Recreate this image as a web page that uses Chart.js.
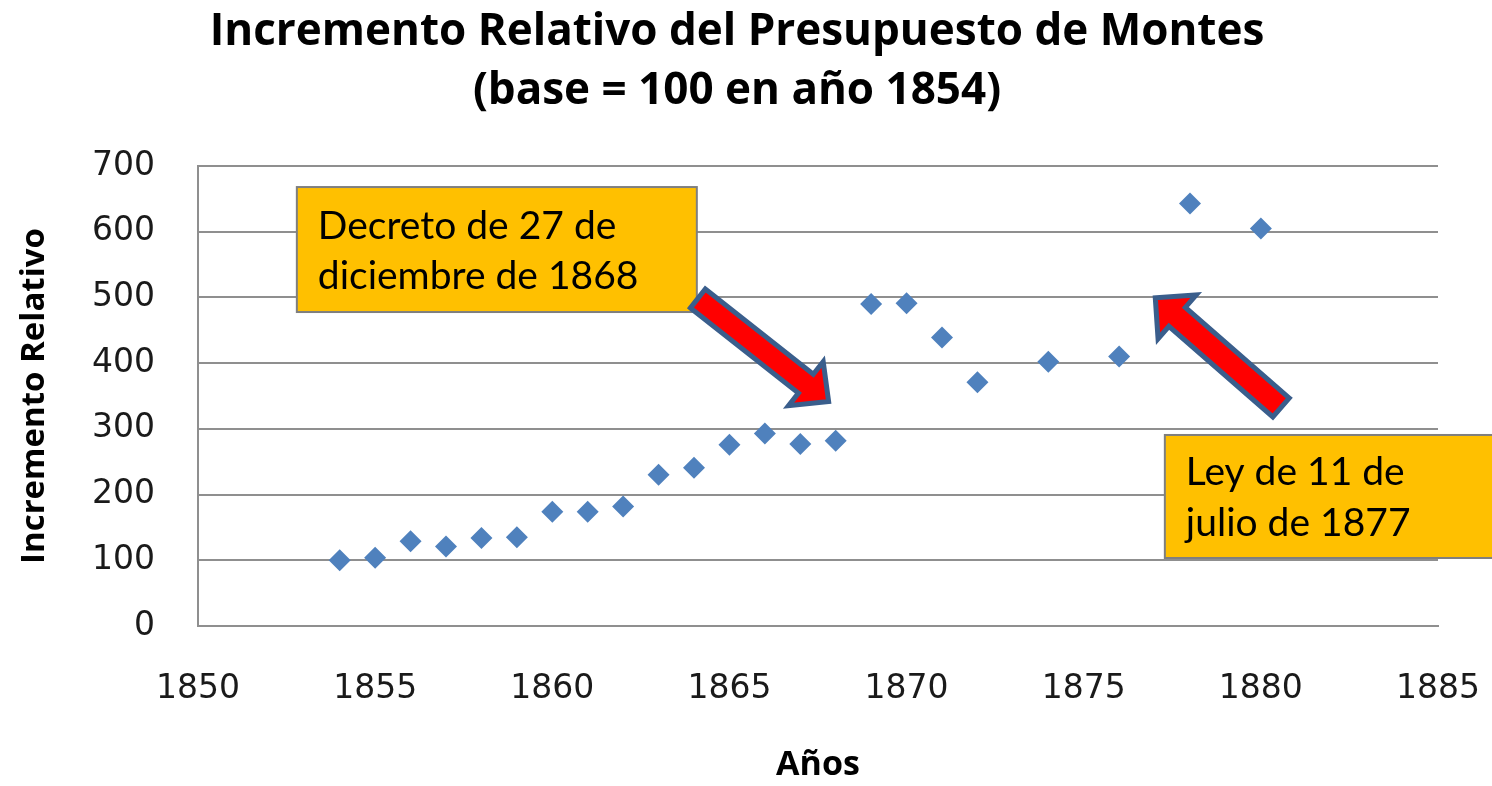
<!DOCTYPE html>
<html>
<head>
<meta charset="utf-8">
<script src="https://cdn.jsdelivr.net/npm/chart.js@4.4.1/dist/chart.umd.min.js"></script>
<style>
html,body{margin:0;padding:0;background:#ffffff;}
#wrap{width:1492px;height:786px;position:relative;}
</style>
</head>
<body>
<div id="wrap"><canvas id="c" width="1492" height="786"></canvas></div>
<script>
// ---- data ----
const years  = [1854,1855,1856,1857,1858,1859,1860,1861,1862,1863,1864,1865,1866,1867,1868,1869,1870,1871,1872,1874,1876,1878,1880];
const values = [100, 104, 129, 121, 134, 135, 174, 174, 182, 230, 241, 276, 293, 277, 282, 490, 491, 439, 371, 402, 410, 643, 605];
const xTickMin = 1850, xTickMax = 1885, xTickStep = 5;
const yTickMin = 0, yTickMax = 700, yTickStep = 100;
const titleLines = ['Incremento Relativo del Presupuesto de Montes', '(base = 100 en año 1854)'];
const xTitle = 'Años';
const yTitle = 'Incremento Relativo';
const note1Lines = ['Decreto de 27 de', 'diciembre de 1868'];
const note2Lines = ['Ley de 11 de', 'julio de 1877'];

// ---- annotation layout (in axis units) ----
const noteBoxes = [
  {x0: 1852.79, x1: 1864.08, y0: 668.0, y1: 477.8, lines: note1Lines, dx: 21, base: [52, 102]},
  {x0: 1877.29, x1: 1886.80, y0: 290.7, y1: 103.5, lines: note2Lines, dx: 21, base: [50, 101]}
];
const noteArrows = [
  {from: [1864.11, 498.4], to: [1867.80, 341.5], shaft: 24, head: 56, headLen: 29},
  {from: [1880.57, 332.5], to: [1877.02, 499.5], shaft: 25, head: 58, headLen: 29}
];

const GRID = '#8f8f8f';

const annotPlugin = {
  id: 'annot',
  afterDatasetsDraw(chart) {
    const ctx = chart.ctx, xs = chart.scales.x, ys = chart.scales.y;
    ctx.save();
    noteBoxes.forEach(b => {
      const l = xs.getPixelForValue(b.x0), r = xs.getPixelForValue(b.x1);
      const t = ys.getPixelForValue(b.y0), bt = ys.getPixelForValue(b.y1);
      ctx.fillStyle = '#FFC000';
      ctx.fillRect(l, t, r - l, bt - t);
      ctx.strokeStyle = '#7f7f7f';
      ctx.lineWidth = 2;
      ctx.strokeRect(l, t, r - l, bt - t);
      ctx.fillStyle = '#000000';
      ctx.font = '39px Lato';
      ctx.textAlign = 'left';
      ctx.textBaseline = 'alphabetic';
      b.lines.forEach((s, i) => ctx.fillText(s, l + b.dx, t + b.base[i]));
    });
    noteArrows.forEach(a => {
      const x1 = xs.getPixelForValue(a.from[0]), y1 = ys.getPixelForValue(a.from[1]);
      const x2 = xs.getPixelForValue(a.to[0]), y2 = ys.getPixelForValue(a.to[1]);
      const dx = x2 - x1, dy = y2 - y1, len = Math.hypot(dx, dy);
      const ux = dx / len, uy = dy / len, nx = -uy, ny = ux;
      const nxk = x2 - ux * a.headLen, nyk = y2 - uy * a.headLen;
      const w = a.shaft / 2, h = a.head / 2;
      ctx.beginPath();
      ctx.moveTo(x1 + nx * w, y1 + ny * w);
      ctx.lineTo(nxk + nx * w, nyk + ny * w);
      ctx.lineTo(nxk + nx * h, nyk + ny * h);
      ctx.lineTo(x2, y2);
      ctx.lineTo(nxk - nx * h, nyk - ny * h);
      ctx.lineTo(nxk - nx * w, nyk - ny * w);
      ctx.lineTo(x1 - nx * w, y1 - ny * w);
      ctx.closePath();
      ctx.fillStyle = '#FF0000';
      ctx.fill();
      ctx.lineJoin = 'miter';
      ctx.miterLimit = 4;
      ctx.lineWidth = 5;
      ctx.strokeStyle = '#3A5E8C';
      ctx.stroke();
    });
    ctx.restore();
  }
};

const points = years.map((y, i) => ({x: y, y: values[i]}));

new Chart(document.getElementById('c'), {
  type: 'scatter',
  data: {
    datasets: [{
      label: 'Incremento',
      data: points,
      pointStyle: 'rectRot',
      pointRadius: 11,
      pointHoverRadius: 11,
      backgroundColor: '#4F81BD',
      borderColor: '#4F81BD',
      borderWidth: 0
    }]
  },
  options: {
    responsive: false,
    animation: false,
    events: [],
    layout: {padding: {top: 0, right: 54, bottom: 0, left: 36}},
    plugins: {
      legend: {display: false},
      tooltip: {enabled: false},
      title: {
        display: true,
        text: titleLines,
        color: '#000000',
        font: {family: 'Open Sans', weight: 'bold', size: 44, lineHeight: 1.34},
        padding: {top: 3, bottom: 45.1}
      }
    },
    scales: {
      x: {
        type: 'linear',
        min: xTickMin, max: xTickMax,
        afterFit(s) { s.height = 160; },
        ticks: {
          stepSize: xTickStep,
          padding: 0,
          color: '#1a1a1a',
          font: {family: 'DejaVu Sans', size: 33},
          callback: v => String(v),
          maxRotation: 0
        },
        grid: {display: false, drawTicks: true, tickLength: 44},
        border: {display: true, color: GRID, width: 2},
        title: {
          display: true, text: xTitle, color: '#000000',
          font: {family: 'Open Sans', weight: 'bold', size: 34, lineHeight: 1.2},
          padding: {top: 0, bottom: 0}
        }
      },
      y: {
        type: 'linear',
        min: yTickMin, max: yTickMax,
        afterFit(s) { s.width = 162; },
        ticks: {
          stepSize: yTickStep,
          padding: 43,
          color: '#1a1a1a',
          font: {family: 'DejaVu Sans', size: 33}
        },
        grid: {display: true, drawTicks: false, color: GRID, lineWidth: 2},
        border: {display: true, color: GRID, width: 2},
        title: {
          display: true, text: yTitle, color: '#000000',
          font: {family: 'Open Sans', weight: 'bold', size: 33, lineHeight: 1.2},
          padding: {top: -21, bottom: 0}
        }
      }
    }
  },
  plugins: [annotPlugin]
});
</script>
</body>
</html>
